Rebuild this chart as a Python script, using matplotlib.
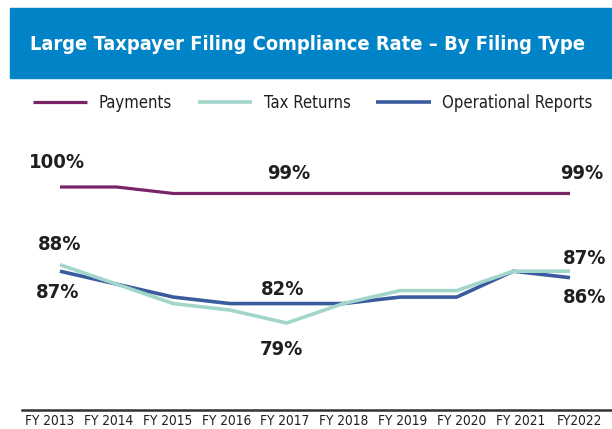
import os
import matplotlib
matplotlib.use("Agg")
import matplotlib.pyplot as plt
from matplotlib.patches import Rectangle
from matplotlib import font_manager

years = ["FY 2013", "FY 2014", "FY 2015", "FY 2016", "FY 2017",
         "FY 2018", "FY 2019", "FY 2020", "FY 2021", "FY2022"]
payments = [100, 100, 99, 99, 99, 99, 99, 99, 99, 99]
tax_returns = [88, 85, 82, 81, 79, 82, 84, 84, 87, 87]
operational = [87, 85, 83, 82, 82, 82, 83, 83, 87, 86]

c_pay = "#7a2468"
c_tax = "#a3d6cb"
c_ops = "#3a5c9e"
c_banner = "#0084c7"
c_text = "#231f20"

# find a narrow / condensed font if one is installed
files = font_manager.findSystemFonts()
def pick(names):
    for n in names:
        for f in files:
            if os.path.basename(f).lower() == n.lower():
                return f
    return None

reg_file = pick(["LiberationSansNarrow-Regular.ttf", "DejaVuSansCondensed.ttf",
                 "RobotoCondensed-Regular.ttf"])
bold_file = pick(["LiberationSansNarrow-Bold.ttf", "DejaVuSansCondensed-Bold.ttf",
                  "RobotoCondensed-Bold.ttf"])
FOUND = reg_file is not None and bold_file is not None

def fp(bold, size):
    if FOUND:
        return font_manager.FontProperties(fname=bold_file if bold else reg_file, size=size)
    return font_manager.FontProperties(family="DejaVu Sans", weight="bold" if bold else "normal",
                                       size=size * 0.85)

W, H = 612, 429
fig = plt.figure(figsize=(W / 100, H / 100), dpi=100)

def fx(px):
    return px / W

def fy(py):
    return 1 - py / H

# banner
fig.patches.append(Rectangle((fx(10), fy(78)), fx(612) - fx(10), fy(8) - fy(78),
                             transform=fig.transFigure, color=c_banner, zorder=0))
fig.text(fx(307), fy(44), "Large Taxpayer Filing Compliance Rate – By Filing Type",
         ha="center", va="center", color="white", fontproperties=fp(True, 14.4))

ax = fig.add_axes([fx(22), fy(410), fx(612) - fx(22), fy(130) - fy(410)])
x = list(range(len(years)))
px_per_unit = (570 - 60) / 9
ax.set_xlim(-(60 - 22) / px_per_unit, 9 + (612 - 570) / px_per_unit)
ppp = (323 - 187) / 21
ax.set_ylim(100 - (410 - 187) / ppp, 100 + (187 - 130) / ppp)

l1, = ax.plot(x, payments, color=c_pay, lw=2.3, solid_capstyle="butt", label="Payments")
l2, = ax.plot(x, tax_returns, color=c_tax, lw=2.6, solid_capstyle="butt", label="Tax Returns")
l3, = ax.plot(x, operational, color=c_ops, lw=2.6, solid_capstyle="butt",
              label="Operational Reports", zorder=1.9)

for s in ["top", "left", "right"]:
    ax.spines[s].set_visible(False)
ax.spines["bottom"].set_color("#333333")
ax.spines["bottom"].set_linewidth(1.8)
ax.set_yticks([])
ax.set_xticks([])

ax2 = ax.twiny()
lab_unit = (579 - 50) / 9
ax2.set_xlim(-(50 - 22) / lab_unit, 9 + (612 - 579) / lab_unit)
ax2.xaxis.set_ticks_position("bottom")
ax2.xaxis.set_label_position("bottom")
ax2.set_xticks(x)
ax2.set_xticklabels(years, color=c_text)
for t in ax2.get_xticklabels():
    t.set_fontproperties(fp(False, 9.8))
ax2.tick_params(axis="x", length=0, pad=3)
for s in ax2.spines.values():
    s.set_visible(False)
ax2.set_yticks([])

def label(xi, yv, dy_px, text, dx_px=0):
    ax.annotate(text, (xi, yv), xytext=(dx_px * 0.72, -dy_px * 0.72),
                textcoords="offset points", ha="center", va="center",
                color=c_text, fontproperties=fp(True, 14.5))

label(0, payments[0], -24, "100%", -3)
label(4, payments[4], -20, "99%", 2)
label(9, payments[9], -20, "99%", 12)
label(0, tax_returns[0], -20, "88%", 0)
label(0, operational[0], 21, "87%", -2)
label(4, operational[4], -14, "82%", -4)
label(4, tax_returns[4], 27, "79%", -5)
label(9, tax_returns[9], -13, "87%", 15)
label(9, operational[9], 20, "86%", 15)

fig.legend(handles=[l1, l2, l3], loc="center left", bbox_to_anchor=(fx(33), fy(103)),
           ncol=3, frameon=False, prop=fp(False, 12), handlelength=3.25, handletextpad=0.7,
           columnspacing=1.55, borderaxespad=0, borderpad=0,
           labelcolor=c_text)

fig.savefig("out.png", dpi=100, facecolor="white")
